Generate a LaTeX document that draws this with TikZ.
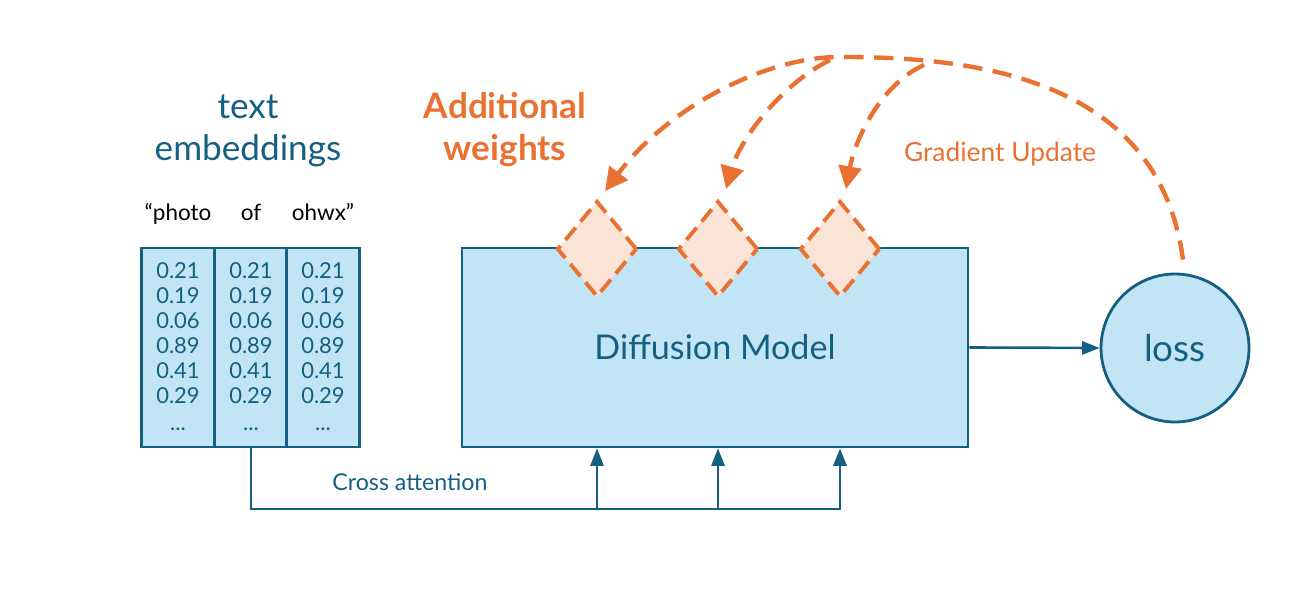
\documentclass[tikz,border=0pt]{standalone}
\usepackage{fontspec}
\setmainfont{Lato}
\usetikzlibrary{arrows.meta, shapes.geometric, positioning, calc}
\usepackage{xcolor}

\definecolor{dmblue}{HTML}{156082}
\definecolor{dmfill}{HTML}{C1E5F5}
\definecolor{wtorange}{HTML}{E97132}
\definecolor{wtfill}{HTML}{FBE3D6}

\tikzset{
  embcol/.style={draw=dmblue, fill=dmfill, line width=1.6pt, inner sep=0pt,
    minimum width=1.46cm, minimum height=3.98cm},
  modelbox/.style={draw=dmblue, fill=dmfill, line width=1.6pt, inner sep=0pt,
    minimum width=10.12cm, minimum height=3.98cm, text=dmblue,
    font=\fontsize{19.4}{23}\selectfont},
  lossnode/.style={circle, draw=dmblue, fill=dmfill, line width=1.6pt, inner sep=0pt,
    minimum size=2.96cm, text=dmblue, font=\fontsize{21}{25}\selectfont},
  weight/.style={diamond, draw=wtorange, fill=wtfill, line width=2.2pt,
    dash pattern=on 9pt off 4.5pt, inner sep=0pt,
    minimum width=1.6cm, minimum height=1.92cm},
  num/.style={text=dmblue, anchor=base, inner sep=0pt, font=\fontsize{12.5}{15}\selectfont},
  word/.style={anchor=base, inner sep=0pt, font=\fontsize{12.8}{15}\selectfont},
  title/.style={anchor=base, inner sep=0pt, font=\fontsize{20}{24}\selectfont},
  conn/.style={draw=dmblue, line width=1.5pt, -{Triangle[length=10pt,width=7.5pt]}},
  grad/.style={draw=wtorange, line width=2.5pt, dash pattern=on 11pt off 6pt,
    -{Triangle[length=13pt,width=13pt]}},
}

\begin{document}
\begin{tikzpicture}[x=0.02cm, y=-0.02cm]
  \useasboundingbox (0,0) rectangle (1297,588);

  % titles
  \node[title, text=dmblue] (ttext) at (248,118) {text};
  \node[title, text=dmblue] (temb) at (248,160) {embeddings};
  \node[title, text=wtorange, font=\fontsize{20}{24}\bfseries\selectfont] (tadd) at (505,118) {Additional};
  \node[title, text=wtorange, font=\fontsize{20}{24}\bfseries\selectfont] (twts) at (505,160) {weights};

  % text embeddings
  \foreach \x/\w [count=\c] in {178/{``photo}, 251/of, 323/{ohwx''}} {
    \node[word] (word\c) at (\x,220) {\w};
    \node[embcol] (col\c) at (\x,347.5) {};
    \foreach \v [count=\r] in {0.21,0.19,0.06,0.89,0.41,0.29}
      \node[num] at (\x,{253+25*\r}) {\v};
    \node[num] at (\x,430) {...};
  }

  % model and loss
  \node[modelbox] (dm) at (715,347.5) {Diffusion Model};
  \node[lossnode] (loss) at (1175,348) {loss};
  \draw[conn] (dm.east) -- (loss.west);

  % additional weights
  \node[weight] (w1) at (597,249) {};
  \node[weight] (w2) at (718,249) {};
  \node[weight] (w3) at (840,249) {};

  % cross attention
  \coordinate (bus) at (0,509);
  \draw[conn] (col2.south) |- (bus -| w3) -- (w3 |- dm.south);
  \foreach \w in {w1,w2}
    \draw[conn] (bus -| \w) -- (\w |- dm.south);
  \node[text=dmblue, anchor=base, font=\fontsize{13.2}{16}\selectfont] (xatt) at (410,490) {Cross attention};

  % gradient update
  \coordinate (g1) at ([shift={(8,-8)}]w1.north);
  \coordinate (g2) at ([shift={(8,-10)}]w2.north);
  \coordinate (g3) at ([shift={(6,-10)}]w3.north);
  \draw[grad] ([shift={(8,-13)}]loss.north) .. controls (1160,90) and (1000,57) .. (844,57)
    .. controls (770,55) and (670,105) .. (g1);
  \draw[grad] (830,60) .. controls (780,85) and (740,140) .. (g2);
  \draw[grad] (924,65) .. controls (880,85) and (855,140) .. (g3);
  \node[text=wtorange, anchor=base, font=\fontsize{15}{18}\selectfont] (tgrad) at (1000,161) {Gradient Update};
\end{tikzpicture}
\end{document}
